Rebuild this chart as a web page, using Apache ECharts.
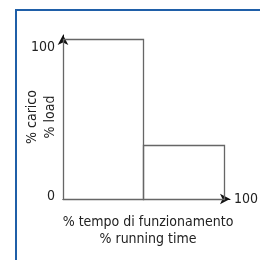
<!DOCTYPE html>
<html>
<head>
<meta charset="utf-8">
<script src="https://cdn.jsdelivr.net/npm/echarts@6/dist/echarts.min.js"></script>
<style>
  html, body { margin: 0; padding: 0; background: #fff; }
  #chart { width: 260px; height: 260px; }
</style>
</head>
<body>
<div id="chart"></div>
<script>
// blocchi: [inizio %, fine %, carico %]
const timeStart = [0, 50];
const timeEnd = [50, 100];
const loadValues = [100, 34];
const yTicks = [0, 100];
const xEndLabel = '100';
const yTitle = '% carico\n% load';
const xTitle = '% tempo di funzionamento\n% running time';

const FONT = "'DejaVu Sans Condensed', 'Liberation Sans', sans-serif";
const FS = 14;

const chart = echarts.init(document.getElementById('chart'));

const blocks = loadValues.map((v, i) => [timeStart[i], timeEnd[i], v]);

const option = {
  animation: false,
  backgroundColor: '#fff',
  graphic: [{
    type: 'rect',
    shape: { x: 16, y: 10, width: 300, height: 300 },
    style: { fill: 'none', stroke: '#1f5fa8', lineWidth: 2 },
    z: 100
  }],
  title: {
    text: xTitle,
    left: 143,
    top: 209,
    textAlign: 'center',
    textStyle: {
      fontFamily: FONT,
      fontSize: FS,
      fontWeight: 'normal',
      color: '#222',
      lineHeight: 17
    }
  },
  grid: { left: 63, top: 35, right: 30, bottom: 61, outerBoundsMode: 'none' },
  xAxis: {
    type: 'value',
    min: 0,
    max: 104,
    name: xEndLabel,
    nameLocation: 'end',
    nameGap: 4,
    nameTextStyle: { fontFamily: FONT, fontSize: FS, color: '#222', padding: [6, 0, 0, 0] },
    axisLine: {
      lineStyle: { color: '#111', width: 1 },
      symbol: ['none', 'arrow'],
      symbolSize: [8, 10]
    },
    axisTick: { show: false },
    axisLabel: { show: false },
    splitLine: { show: false }
  },
  yAxis: {
    type: 'value',
    min: 0,
    max: 102.5,
    name: yTitle,
    nameLocation: 'middle',
    nameRotate: 90,
    nameGap: 4,
    nameMoveOverlap: false,
    nameTextStyle: { fontFamily: FONT, fontSize: FS, color: '#222', lineHeight: 18 },
    axisLine: {
      lineStyle: { color: '#111', width: 1 },
      symbol: ['none', 'arrow'],
      symbolSize: [8, 10]
    },
    axisTick: { show: false },
    axisLabel: {
      customValues: yTicks,
      margin: 8,
      fontFamily: FONT,
      fontSize: FS,
      color: '#222',
      formatter: v => (v === 0 ? '{lo|' + v + '}' : '{hi|' + v + '}'),
      rich: {
        lo: { fontFamily: FONT, fontSize: FS, color: '#222', padding: [0, 0, 6, 0] },
        hi: { fontFamily: FONT, fontSize: FS, color: '#222', padding: [16, 0, 0, 0] }
      }
    },
    splitLine: { show: false }
  },
  series: [{
    type: 'custom',
    data: blocks,
    renderItem: (params, api) => {
      const p0 = api.coord([api.value(0), api.value(2)]);
      const p1 = api.coord([api.value(1), 0]);
      const x0 = Math.round(p0[0]) + 0.5;
      const x1 = Math.round(p1[0]) + 0.5;
      const y0 = Math.round(p0[1]) + 0.5;
      const y1 = Math.round(p1[1]) + 0.5;
      return {
        type: 'rect',
        shape: { x: x0, y: y0, width: x1 - x0, height: y1 - y0 },
        style: { fill: 'none', stroke: '#666', lineWidth: 1.3 }
      };
    },
    z: 1
  }]
};

chart.setOption(option);
</script>
</body>
</html>
